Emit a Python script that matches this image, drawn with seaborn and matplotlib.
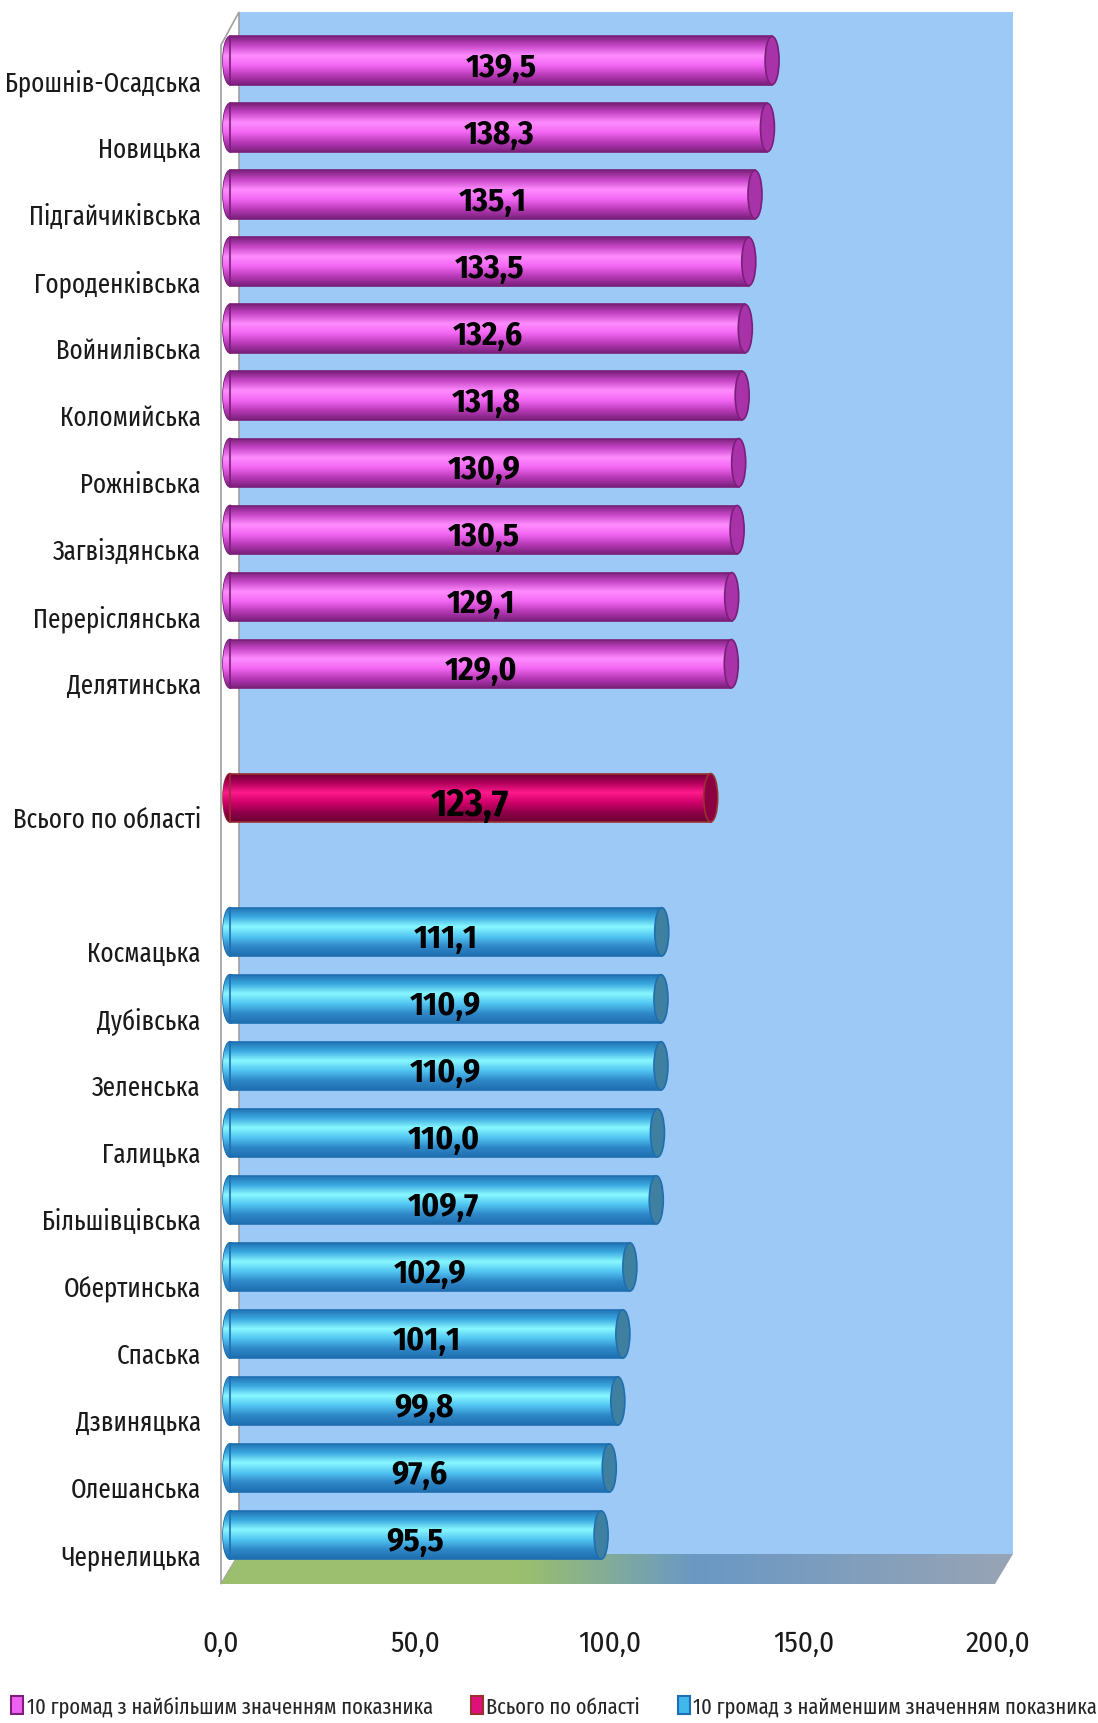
import numpy as np
import pandas as pd
import matplotlib
matplotlib.use("Agg")
import matplotlib.pyplot as plt
import matplotlib.patches as mpatches
import matplotlib.transforms as mtransforms
from matplotlib.colors import LinearSegmentedColormap
import seaborn as sns

# ─── Дані ────────────────────────────────────────────────────────────────────
top_names = ["Брошнів-Осадська", "Новицька", "Підгайчиківська", "Городенківська",
             "Войнилівська", "Коломийська", "Рожнівська", "Загвіздянська",
             "Переріслянська", "Делятинська"]
top_vals = [139.5, 138.3, 135.1, 133.5, 132.6, 131.8, 130.9, 130.5, 129.1, 129.0]

total_name = "Всього по області"
total_val = 123.7

bottom_names = ["Космацька", "Дубівська", "Зеленська", "Галицька", "Більшівцівська",
                "Обертинська", "Спаська", "Дзвиняцька", "Олешанська", "Чернелицька"]
bottom_vals = [111.1, 110.9, 110.9, 110.0, 109.7, 102.9, 101.1, 99.8, 97.6, 95.5]

group_names = ["10 громад з найбільшим значенням показника",
               "Всього по області",
               "10 громад з найменшим значенням показника"]
tick_vals = [0, 50, 100, 150, 200]

# ─── Таблиця для seaborn (з порожніми рядками між групами) ───────────────────
rows = [(n, v, group_names[0]) for n, v in zip(top_names, top_vals)]
rows += [(" ", np.nan, None), (total_name, total_val, group_names[1]), ("  ", np.nan, None)]
rows += [(n, v, group_names[2]) for n, v in zip(bottom_names, bottom_vals)]
df = pd.DataFrame(rows, columns=["name", "value", "group"])
order = list(df["name"])

# ─── Стиль ───────────────────────────────────────────────────────────────────
sns.set_style("white")
fonts = ["Fira Sans Condensed", "Open Sans Condensed", "DejaVu Sans"]
narrow = ["Fira Sans Extra Condensed"] + fonts
plt.rcParams["font.family"] = fonts

palette = {group_names[0]: "#f060f0", group_names[1]: "#e0107a", group_names[2]: "#40b8ec"}
edges = {group_names[0]: "#7a1f7a", group_names[1]: "#9a3030", group_names[2]: "#1f6fb0"}
caps = {group_names[0]: "#a832a8", group_names[1]: "#8a0040", group_names[2]: "#3f7fa0"}
grads = {
    group_names[0]: ["#7a1f7a", "#c848c8", "#ff8cff", "#f266f2", "#b83ab8", "#7a1f7a"],
    group_names[1]: ["#6a0030", "#b0005a", "#ff1a8c", "#d0006a", "#90004a", "#6a0030"],
    group_names[2]: ["#1f6fb0", "#3aa8e0", "#88f8ff", "#52c6f2", "#2f88c8", "#1f6fb0"],
}
cmaps = {g: LinearSegmentedColormap.from_list(g, c) for g, c in grads.items()}

W, H = 1098, 1724
fig = plt.figure(figsize=(W / 100, H / 100), dpi=100)

# ─── Фон: 3D-стінки та підлога (в пікселях) ─────────────────────────────────
bg = fig.add_axes([0, 0, 1, 1], zorder=0)
bg.set_xlim(0, W)
bg.set_ylim(H, 0)
bg.axis("off")
bg.add_patch(mpatches.Rectangle((239, 13), 774, 1542, facecolor="#9cc9f5", edgecolor="none"))
bg.add_patch(mpatches.Polygon([(221, 46), (239, 13), (239, 1555), (221, 1585)],
                              closed=True, facecolor="white", edgecolor="#a0a0a0", lw=1.2))
floor = mpatches.Polygon([(221, 1585), (995, 1585), (1013, 1555), (239, 1555)],
                         closed=True, facecolor="none", edgecolor="none")
bg.add_patch(floor)
floor_cmap = LinearSegmentedColormap.from_list(
    "floor", [(0, "#9bbf6e"), (0.38, "#9bbf6e"), (0.6, "#6a98c4"), (1.0, "#98a4b4")])
im = bg.imshow(np.linspace(0, 1, 256)[None, :], cmap=floor_cmap, aspect="auto",
               extent=(221, 1013, 1585, 1555), zorder=1)
im.set_clip_path(floor)
bg.set_xlim(0, W)
bg.set_ylim(H, 0)

# ─── Основні осі ─────────────────────────────────────────────────────────────
px_per_unit = 3.886
x_zero = 230          # піксель, де лежить 0 для циліндрів
x_margin = 2.5        # запас зліва для заокругленого краю
ax_left, ax_right = x_zero - x_margin * px_per_unit, 1015
ax_top, ax_bot = 28, 1569.5
ax = fig.add_axes([ax_left / W, 1 - ax_bot / H, (ax_right - ax_left) / W, (ax_bot - ax_top) / H],
                  zorder=2)
ax.patch.set_alpha(0)

sns.barplot(data=df, y="name", x="value", hue="group", order=order, hue_order=group_names,
            palette=palette, dodge=False, width=0.72, saturation=1, legend=False,
            orient="h", ax=ax)

xlim = (-x_margin, (ax_right - x_zero) / px_per_unit)
ylim = (len(order) - 0.5, -0.5)
cap_w = 3.6

for p in list(ax.patches):
    w = p.get_width()
    if not np.isfinite(w) or w <= 0:
        continue
    x0, y0, h = p.get_x(), p.get_y(), p.get_height()
    idx = int(round(y0 + h / 2))
    g = df["group"].iloc[idx]
    grad = np.linspace(0, 1, 256)[:, None]
    # ліва заокруглена частина
    left = mpatches.Ellipse((x0, y0 + h / 2), cap_w, h, facecolor="none",
                            edgecolor=edges[g], lw=1.2, zorder=2)
    ax.add_patch(left)
    im1 = ax.imshow(grad, cmap=cmaps[g], aspect="auto", extent=(x0 - cap_w, x0 + w, y0 + h, y0),
                    origin="upper", zorder=2)
    im1.set_clip_path(left)
    # тіло циліндра
    p.set_facecolor("none")
    p.set_edgecolor(edges[g])
    p.set_linewidth(1.2)
    p.set_zorder(4)
    im2 = ax.imshow(grad, cmap=cmaps[g], aspect="auto", extent=(x0, x0 + w, y0 + h, y0),
                    origin="upper", zorder=3)
    im2.set_clip_path(p)
    # торець
    ax.add_patch(mpatches.Ellipse((x0 + w, y0 + h / 2), cap_w, h, facecolor=caps[g],
                                  edgecolor=edges[g], lw=1.2, zorder=5))
    # підпис значення
    big = g == group_names[1]
    ax.text(x0 + w / 2, y0 + h / 2 + 0.1, f"{w:.1f}".replace(".", ","),
            ha="center", va="center", fontsize=28 if big else 24,
            fontweight="bold", color="black", zorder=6)

ax.set_xlim(*xlim)
ax.set_ylim(*ylim)
ax.set_xticks(tick_vals)
ax.set_xticklabels([f"{t:.1f}".replace(".", ",") for t in tick_vals])
ax.tick_params(axis="x", length=0, pad=43, labelsize=21, labelcolor="#1a1a1a")
ax.tick_params(axis="y", length=0, pad=14, labelsize=19.5, labelcolor="#1a1a1a",
               labelfontfamily=narrow)
ax.set_xlabel("")
ax.set_ylabel("")
for s in ax.spines.values():
    s.set_visible(False)

y_off = mtransforms.ScaledTranslation(0, -0.185, fig.dpi_scale_trans)
for lbl in ax.get_yticklabels():
    lbl.set_transform(lbl.get_transform() + y_off)
x_off = mtransforms.ScaledTranslation(-0.09, 0, fig.dpi_scale_trans)
for lbl in ax.get_xticklabels():
    lbl.set_transform(lbl.get_transform() + x_off)

# ─── Легенда ─────────────────────────────────────────────────────────────────
handles = [mpatches.Patch(facecolor=palette[g], edgecolor=edges[g], lw=1.5) for g in group_names]
fig.legend(handles, group_names, loc="lower left", bbox_to_anchor=(0.0, -0.003), ncol=3,
           frameon=False, prop={"family": narrow, "size": 16},
           handlelength=0.55, handleheight=0.9, handletextpad=0.15, columnspacing=1.7,
           borderaxespad=0.2, borderpad=0.3)

plt.savefig("out.png", dpi=100)
